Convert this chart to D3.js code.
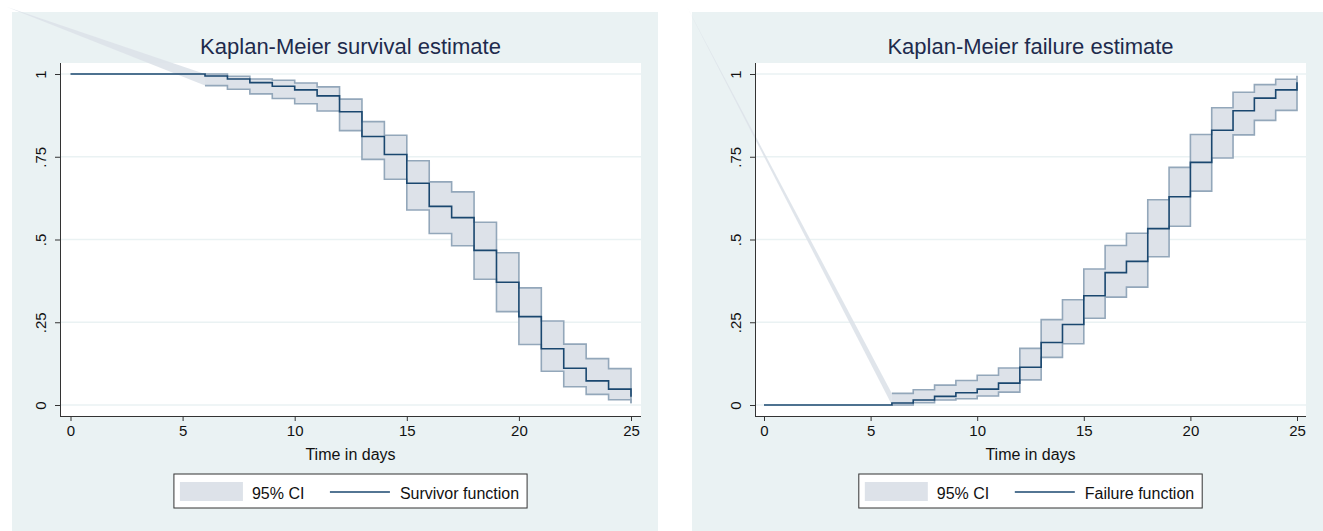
<!DOCTYPE html>
<html>
<head>
<meta charset="utf-8">
<script src="https://d3js.org/d3.v7.min.js"></script>
<style>
  body { margin: 0; background: #fff; }
  text { font-family: "Liberation Sans", Arial, sans-serif; }
</style>
</head>
<body>
<div id="chart"></div>
<script>
// Kaplan-Meier estimates
const days = [0, 6, 7, 8, 9, 10, 11, 12, 13, 14, 15, 16, 17, 18, 19, 20, 21, 22, 23, 24, 25];
const ciDays = [6, 7, 8, 9, 10, 11, 12, 13, 14, 15, 16, 17, 18, 19, 20, 21, 22, 23, 24, 25];

const survival = [1, .994, .985, .974, .963, .952, .934, .886, .811, .757, .670, .600, .566, .467, .371, .267, .170, .111, .073, .048, .025];
const survUpper = [1.0, .993, .985, .981, .973, .961, .924, .856, .815, .738, .674, .644, .552, .460, .354, .254, .184, .140, .110, .094];
const survLower = [.965, .954, .940, .926, .910, .888, .829, .742, .682, .589, .518, .481, .380, .282, .183, .102, .055, .032, .016, .005];

const failure = [0, .006, .015, .026, .037, .048, .066, .114, .189, .243, .330, .400, .434, .533, .629, .733, .830, .889, .927, .952, .975];
const failUpper = [.035, .046, .060, .074, .090, .112, .171, .258, .318, .411, .482, .519, .620, .718, .817, .898, .945, .968, .984, .995];
const failLower = [0, .007, .015, .019, .027, .039, .076, .144, .185, .262, .326, .356, .448, .540, .646, .746, .816, .860, .890, .906];

const xTicks = [0, 5, 10, 15, 20, 25];
const yTicks = [0, .25, .5, .75, 1];
const yTickLabels = ["0", ".25", ".5", ".75", "1"];

const bgColor = "#eaf2f3",
  gridColor = "#eaf2f3",
  lineColor = "#1a476f",
  ciFill = "#dde2e9",
  ciEdge = "#93a7ba",
  titleColor = "#1e2b4d";

const svg = d3.select("#chart").append("svg")
  .attr("width", 1323)
  .attr("height", 531);

function drawPanel(p) {
  const g = svg.append("g");

  g.append("rect")
    .attr("x", p.left).attr("y", 12)
    .attr("width", p.right - p.left).attr("height", 531 - 12)
    .attr("fill", bgColor);

  const x = d3.scaleLinear().domain([0, 25]).range(p.xRange);
  const y = d3.scaleLinear().domain([0, 1]).range([405, 74]);

  // plot region
  g.append("rect")
    .attr("x", p.plotL).attr("y", 63)
    .attr("width", p.plotR - p.plotL).attr("height", 416 - 63)
    .attr("fill", "#fff");

  g.selectAll(".grid").data(yTicks).enter().append("line")
    .attr("x1", p.plotL).attr("x2", p.plotR)
    .attr("y1", d => y(d)).attr("y2", d => y(d))
    .attr("stroke", gridColor).attr("stroke-width", 1.5);

  const ci = ciDays.map((d, i) => ({ t: d, lo: p.lower[i], hi: p.upper[i] }));

  // stray wedge from the panel corner to the start of the band
  const wedge = d3.path();
  wedge.moveTo(p.left - 5, 7);
  wedge.lineTo(x(ci[0].t), y(ci[0].hi));
  wedge.lineTo(x(ci[0].t), y(ci[0].lo));
  wedge.closePath();
  g.append("path").attr("d", wedge.toString())
    .attr("fill", ciFill).attr("opacity", 0.9);

  const area = d3.area()
    .curve(d3.curveStepAfter)
    .x(d => x(d.t)).y0(d => y(d.lo)).y1(d => y(d.hi));
  g.append("path").datum(ci).attr("d", area).attr("fill", ciFill);

  const edge = d3.line().curve(d3.curveStepAfter).x(d => x(d.t));
  const hiPath = edge.y(d => y(d.hi))(ci);
  const loPath = edge.y(d => y(d.lo))(ci);
  const last = ci[ci.length - 1];
  g.append("path")
    .attr("d", hiPath + "L" + x(last.t) + "," + y(last.lo))
    .attr("fill", "none").attr("stroke", ciEdge).attr("stroke-width", 1.6);
  g.append("path").attr("d", loPath)
    .attr("fill", "none").attr("stroke", ciEdge).attr("stroke-width", 1.6);

  const km = days.map((d, i) => ({ t: d, v: p.est[i] }));
  g.append("path").datum(km)
    .attr("d", d3.line().curve(d3.curveStepAfter).x(d => x(d.t)).y(d => y(d.v)))
    .attr("fill", "none").attr("stroke", lineColor).attr("stroke-width", 1.6);

  // axes
  const xAxis = g.append("g").attr("transform", "translate(0,416)")
    .call(d3.axisBottom(x).tickValues(xTicks).tickSize(5).tickPadding(4).tickSizeOuter(0));
  xAxis.select(".domain").attr("d", "M" + p.plotL + ",0.5H" + p.plotR);
  xAxis.selectAll("text").attr("font-size", 15).attr("fill", "#111").attr("font-family", null);
  xAxis.selectAll("line,path").attr("stroke", "#333");

  const yAxis = g.append("g").attr("transform", "translate(" + p.plotL + ",0)")
    .call(d3.axisLeft(y).tickValues(yTicks).tickFormat((d, i) => yTickLabels[i]).tickSize(5).tickSizeOuter(0));
  yAxis.select(".domain").attr("d", "M0.5,63V416");
  yAxis.selectAll("line,path").attr("stroke", "#333");
  yAxis.selectAll("text")
    .attr("font-size", 15).attr("fill", "#111").attr("font-family", null)
    .attr("text-anchor", "middle").attr("dy", 0)
    .attr("x", null)
    .attr("transform", "translate(-14,0) rotate(-90)");

  const cx = (p.plotL + p.plotR) / 2;
  g.append("text").attr("x", cx).attr("y", 460)
    .attr("text-anchor", "middle").attr("font-size", 16).attr("fill", "#111")
    .text("Time in days");

  g.append("text").attr("x", cx).attr("y", 54)
    .attr("text-anchor", "middle").attr("font-size", 22).attr("fill", titleColor)
    .text(p.title);

  // legend
  const leg = g.append("g");
  const box = leg.append("rect").attr("y", 474).attr("height", 34)
    .attr("fill", "#fff").attr("stroke", "#333").attr("stroke-width", 1);
  leg.append("rect").attr("x", 6).attr("y", 482).attr("width", 63).attr("height", 19).attr("fill", ciFill);
  leg.append("text").attr("x", 78).attr("y", 499).attr("font-size", 16).attr("fill", "#111").text("95% CI");
  leg.append("line").attr("x1", 156).attr("x2", 216).attr("y1", 492).attr("y2", 492)
    .attr("stroke", lineColor).attr("stroke-width", 1.6);
  const lab = leg.append("text").attr("x", 226).attr("y", 499).attr("font-size", 16).attr("fill", "#111").text(p.label);
  const w = 226 + lab.node().getComputedTextLength() + 8;
  box.attr("x", 0).attr("width", w);
  leg.attr("transform", "translate(" + (cx - w / 2) + ",0)");
}

drawPanel({
  left: 12, right: 658, plotL: 60, plotR: 641, xRange: [70.5, 631],
  est: survival, upper: survUpper, lower: survLower,
  title: "Kaplan-Meier survival estimate", label: "Survivor function"
});

drawPanel({
  left: 692, right: 1323, plotL: 755, plotR: 1306, xRange: [764, 1297],
  est: failure, upper: failUpper, lower: failLower,
  title: "Kaplan-Meier failure estimate", label: "Failure function"
});
</script>
</body>
</html>
